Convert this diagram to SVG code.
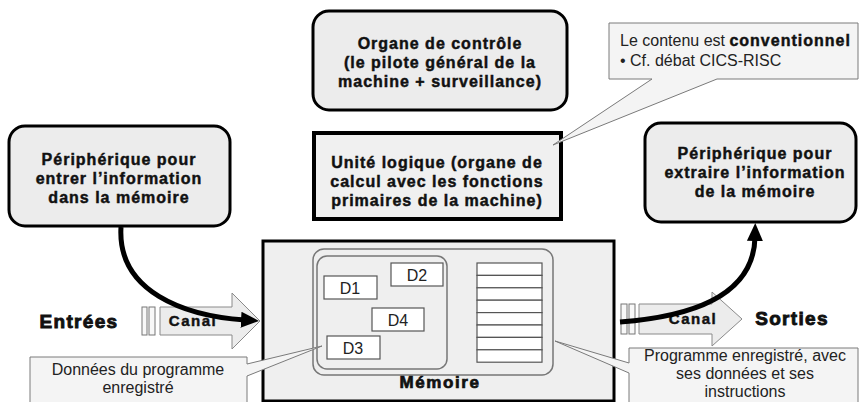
<svg xmlns="http://www.w3.org/2000/svg" width="859" height="402" viewBox="0 0 859 402">
<defs>
<style>
.node{fill:#ececec;stroke:#000;stroke-width:3}
.bt{font-family:"Liberation Sans",Arial,sans-serif;font-weight:bold;font-size:16px;letter-spacing:1px;fill:#111;stroke:#111;stroke-width:0.45;text-anchor:middle}
.big{font-size:19px;letter-spacing:1.3px;stroke-width:0.9}
.rt{font-family:"Liberation Sans",Arial,sans-serif;font-size:16px;fill:#222;text-anchor:middle}
.call{fill:#f4f4f4;stroke:#7a7a7a;stroke-width:1}
.gr{fill:#efefef;stroke:#777;stroke-width:1.5}
.d{fill:#fff;stroke:#555;stroke-width:1.2}
.canal{fill:#ececec;stroke:#8a8a8a;stroke-width:1}
.bar{fill:#f8f8f8;stroke:#777;stroke-width:1}
.conn{fill:none;stroke:#000;stroke-width:5}
</style>
<marker id="ah" markerUnits="userSpaceOnUse" markerWidth="20" markerHeight="20" viewBox="0 0 20 20" refX="4" refY="10" orient="auto">
<path d="M0,2 L18,10 L0,18 Z" fill="#000"/>
</marker>
</defs>

<g id="node-entree">
<rect class="node" x="9" y="126" width="221" height="100" rx="16"/>
<text class="bt" x="119" y="165">Périphérique pour</text>
<text class="bt" x="119" y="184">entrer l’information</text>
<text class="bt" x="119" y="203">dans la mémoire</text>
</g>

<g id="node-controle">
<rect class="node" x="313" y="11" width="254" height="99" rx="16"/>
<text class="bt" x="440" y="49">Organe de contrôle</text>
<text class="bt" x="440" y="68">(le pilote général de la</text>
<text class="bt" x="440" y="87">machine + surveillance)</text>
</g>

<g id="node-unite">
<rect x="314" y="133" width="247" height="86" fill="#f0f0f0" stroke="#000" stroke-width="4"/>
<text class="bt" x="437" y="168">Unité logique (organe de</text>
<text class="bt" x="437" y="187">calcul avec les fonctions</text>
<text class="bt" x="437" y="206">primaires de la machine)</text>
</g>

<g id="node-sortie">
<rect class="node" x="645" y="123" width="211" height="99" rx="16"/>
<text class="bt" x="755" y="159">Périphérique pour</text>
<text class="bt" x="755" y="178">extraire l’information</text>
<text class="bt" x="755" y="197">de la mémoire</text>
</g>

<g id="canal-entree">
<text class="bt big" x="79" y="328">Entrées</text>
<rect class="bar" x="142" y="307" width="5" height="28"/>
<rect class="bar" x="149" y="307" width="6" height="28"/>
<polygon class="canal" points="160,307 232,307 232,293 260,321 232,349 232,335 160,335"/>
<text class="bt" x="193" y="326" style="font-size:15px;letter-spacing:1.5px">Canal</text>
</g>

<g id="canal-sortie">
<rect class="bar" x="621" y="304" width="6" height="30"/>
<rect class="bar" x="629" y="304" width="6" height="30"/>
<polygon class="canal" points="639,304 712,304 712,292 742,319 712,346 712,334 639,334"/>
<text class="bt" x="693" y="324" style="font-size:15px;letter-spacing:1.5px">Canal</text>
<text class="bt big" x="792" y="325">Sorties</text>
</g>

<g id="memoire">
<rect x="263" y="241" width="351" height="160" fill="#efefef" stroke="#000" stroke-width="3"/>
<rect class="gr" x="313" y="249" width="240" height="126" rx="11"/>
<rect class="gr" x="317" y="256" width="130" height="113" rx="10"/>
<rect class="d" x="324" y="276" width="53" height="23"/>
<text class="rt" x="350" y="294">D1</text>
<rect class="d" x="391" y="263" width="52" height="23"/>
<text class="rt" x="417" y="281">D2</text>
<rect class="d" x="372" y="308" width="52" height="23"/>
<text class="rt" x="398" y="326">D4</text>
<rect class="d" x="327" y="336" width="53" height="23"/>
<text class="rt" x="353" y="354">D3</text>
<g fill="#fff" stroke="#555" stroke-width="1.2">
<rect x="477" y="263" width="65" height="12.4"/>
<rect x="477" y="275.4" width="65" height="12.4"/>
<rect x="477" y="287.8" width="65" height="12.4"/>
<rect x="477" y="300.2" width="65" height="12.4"/>
<rect x="477" y="312.6" width="65" height="12.4"/>
<rect x="477" y="325" width="65" height="12.4"/>
<rect x="477" y="337.4" width="65" height="12.4"/>
<rect x="477" y="349.8" width="65" height="12.4"/>
</g>
<text class="bt" x="440" y="388" style="font-size:17px;letter-spacing:1.6px;stroke-width:0.7">Mémoire</text>
</g>

<g id="callout-convention">
<path class="call" d="M609,23 H858 V79 H717 L553,145 L652,79 H609 Z"/>
<text font-family="'Liberation Sans',Arial,sans-serif" font-size="16" fill="#222" x="620" y="46">Le contenu est <tspan font-weight="bold" letter-spacing="1" fill="#111" stroke="#111" stroke-width="0.45">conventionnel</tspan></text>
<text font-family="'Liberation Sans',Arial,sans-serif" font-size="16" fill="#222" x="620" y="66">• Cf. débat CICS-RISC</text>
</g>

<g id="callout-donnees">
<path class="call" d="M30,357 H247 V364 L322,346 L247,376 V410 H30 Z"/>
<text class="rt" x="138" y="375">Données du programme</text>
<text class="rt" x="138" y="393">enregistré</text>
</g>

<g id="callout-programme">
<path class="call" d="M629,348 H858 V410 H629 V373 L555,341 L629,363 Z"/>
<text class="rt" x="745" y="361">Programme enregistré, avec</text>
<text class="rt" x="745" y="379">ses données et ses</text>
<text class="rt" x="745" y="397">instructions</text>
</g>

<g id="connectors">
<path class="conn" d="M121,227 C117,292 185,316 245,320" marker-end="url(#ah)"/>
<path class="conn" d="M620,322 C700,316 754,292 755,237" marker-end="url(#ah)"/>
</g>
</svg>
